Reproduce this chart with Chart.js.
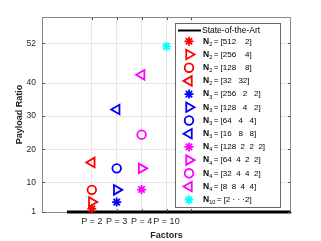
<!DOCTYPE html>
<html><head><meta charset="utf-8">
<script src="https://cdn.jsdelivr.net/npm/chart.js@4"></script>
<style>html,body{margin:0;padding:0;background:#fff;overflow:hidden}#wrap{width:321px;height:241px;position:relative}</style>
</head><body><div id="wrap"><canvas id="c" width="321" height="241"></canvas></div>
<script>
// ---- data ----
const factorTicks = [2, 3, 4, 5, 6];
const factorLabels = ['P = 2', 'P = 3', 'P = 4', 'P = 10', ''];
const factorPositions = [2, 3, 4, 5];
const yTicks = [1, 10, 20, 30, 40, 52];
const ratioP2 = [2, 4, 7.7, 16];
const ratioP3 = [4, 7.7, 14.2, 32];
const ratioP4 = [7.8, 14.2, 24.4, 42.5];
const ratioP10 = [51.1];
const stateOfArtX = [1, 10];
const stateOfArtY = [1, 1];
const legendSub = ['2','2','2','2','3','3','3','3','4','4','4','4','10'];
const legendDims = ['[512    2]','[256    4]','[128    8]','[32   32]',
  '[256   2   2]','[128   4   2]','[64   4   4]','[16   8   8]',
  '[128  2  2  2]','[64  4  2  2]','[32  4  4  2]','[8  8  4  4]','[2 · · ·2]'];

const FONT = 'Liberation Sans';
const colors = ['#ff0000', '#0000ff', '#ff00ff', '#00ffff'];
const markerStyles = [
  {pointStyle: 'star', rotation: 0, radius: 4.5},
  {pointStyle: 'triangle', rotation: 90, radius: 5.5},
  {pointStyle: 'circle', rotation: 0, radius: 4.3},
  {pointStyle: 'triangle', rotation: -90, radius: 5.5}
];
const groupValues = [ratioP2, ratioP3, ratioP4, ratioP10];

const datasets = [{
  type: 'line', label: 'State-of-the-Art',
  data: stateOfArtX.map((x, i) => ({x, y: stateOfArtY[i]})),
  borderColor: '#000', borderWidth: 3, pointRadius: 0, clip: false, order: 1
}];
const legendMarkers = [];
groupValues.forEach((vals, g) => {
  vals.forEach((v, i) => {
    const m = markerStyles[i];
    datasets.push({
      label: 'N' + legendSub[legendMarkers.length],
      data: [{x: factorPositions[g], y: v}],
      pointStyle: m.pointStyle, rotation: m.rotation, pointRadius: m.radius,
      borderColor: colors[g], backgroundColor: 'rgba(0,0,0,0)', pointBorderWidth: 1.8,
      showLine: false, clip: false, order: 0
    });
    legendMarkers.push({m, color: colors[g]});
  });
});

const plugin = {
  id: 'mlStuff',
  afterDraw(chart) {
    const ctx = chart.ctx, a = chart.chartArea;
    const xs = chart.scales.x, ys = chart.scales.y;
    ctx.save();
    // top/right box lines
    ctx.strokeStyle = '#8a8a8a'; ctx.lineWidth = 1;
    const L = Math.round(a.left) + 0.5, R = Math.round(a.right) - 0.5, T = Math.round(a.top) + 0.5, B = Math.round(a.bottom) - 0.5;
    ctx.beginPath(); ctx.moveTo(L, T); ctx.lineTo(R, T); ctx.lineTo(R, B); ctx.stroke();
    // inward ticks
    ctx.strokeStyle = '#555';
    ctx.beginPath();
    factorTicks.forEach(v => {
      const px = Math.round(xs.getPixelForValue(v)) + 0.5;
      ctx.moveTo(px, T); ctx.lineTo(px, T + 2.5);
      ctx.moveTo(px, B); ctx.lineTo(px, B - 2.5);
    });
    yTicks.forEach(v => {
      const py = Math.round(ys.getPixelForValue(v)) + 0.5;
      ctx.moveTo(L, py); ctx.lineTo(L + 2.5, py);
      ctx.moveTo(R, py); ctx.lineTo(R - 2.5, py);
    });
    ctx.stroke();
    // legend
    const lx = 175.5, ly = 23.5, lw = 105, lh = 184;
    ctx.fillStyle = '#fff'; ctx.fillRect(lx, ly, lw, lh);
    ctx.strokeStyle = '#666'; ctx.strokeRect(lx, ly, lw, lh);
    ctx.textBaseline = 'middle'; ctx.textAlign = 'left';
    // state of the art row
    ctx.strokeStyle = '#000'; ctx.lineWidth = 2;
    ctx.beginPath(); ctx.moveTo(178, 30.5); ctx.lineTo(201, 30.5); ctx.stroke();
    ctx.fillStyle = '#000'; ctx.font = '8.5px "' + FONT + '"';
    ctx.fillText('State-of-the-Art', 202, 30.5);
    legendMarkers.forEach((lm, i) => {
      const y = 41.3 + 13.2 * i;
      ctx.strokeStyle = lm.color; ctx.fillStyle = 'rgba(0,0,0,0)'; ctx.lineWidth = 1.8;
      Chart.helpers.drawPoint(ctx, {pointStyle: lm.m.pointStyle, rotation: lm.m.rotation, radius: lm.m.radius, borderWidth: 1.8}, 189, y);
      ctx.fillStyle = '#000';
      let x = 203;
      ctx.font = 'bold 8.5px "' + FONT + '"';
      ctx.fillText('N', x, y); x += ctx.measureText('N').width;
      ctx.font = '5.5px "' + FONT + '"';
      ctx.fillText(legendSub[i], x, y + 3); x += ctx.measureText(legendSub[i]).width + 1.5;
      ctx.font = '8px "' + FONT + '"';
      ctx.fillText('= ' + legendDims[i], x, y);
    });
    ctx.restore();
  }
};

new Chart(document.getElementById('c'), {
  type: 'scatter',
  data: {datasets},
  options: {
    responsive: false, animation: false, devicePixelRatio: 1,
    layout: {padding: {left: 0, right: 30, top: 17, bottom: 0}},
    plugins: {legend: {display: false}, tooltip: {enabled: false}},
    scales: {
      x: {
        type: 'linear', min: 0, max: 10,
        afterBuildTicks: s => { s.ticks = factorTicks.map(v => ({value: v})); },
        afterFit: s => { s.height = 29; },
        ticks: {autoSkip: false, maxRotation: 0, minRotation: 0, padding: 4.5, color: '#262626',
          font: {family: FONT, size: 9}, callback: (v, i) => factorLabels[i]},
        grid: {color: '#e6e6e6', drawTicks: false},
        border: {color: '#8a8a8a'},
        title: {display: true, text: 'Factors', color: '#262626', padding: 0,
          font: {family: FONT, size: 9, weight: 'bold'}}
      },
      y: {
        type: 'linear', min: 1, max: 60,
        afterBuildTicks: s => { s.ticks = yTicks.map(v => ({value: v})); },
        afterFit: s => { s.width = 42; },
        ticks: {padding: 6, color: '#262626', font: {family: FONT, size: 8.5}},
        grid: {color: '#e6e6e6', drawTicks: false},
        border: {color: '#8a8a8a'},
        title: {display: true, text: 'Payload Ratio', color: '#262626', padding: {top: 14.6, bottom: 0},
          font: {family: FONT, size: 9, weight: 'bold'}}
      }
    }
  },
  plugins: [plugin]
});
</script>
</body></html>
